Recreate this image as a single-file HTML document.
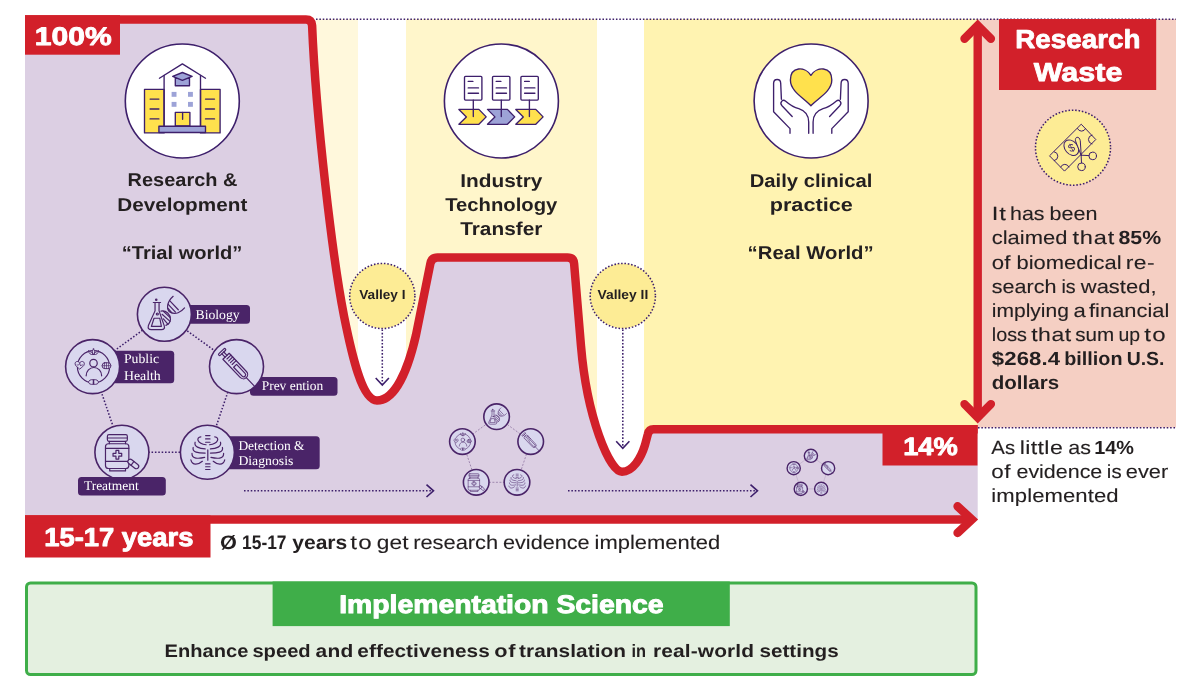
<!DOCTYPE html>
<html lang="en"><head><meta charset="utf-8"><title>Implementation Science</title>
<style>html,body{margin:0;padding:0;background:#fff}svg{display:block;will-change:transform}text{text-rendering:geometricPrecision}</style></head><body>
<svg width="1200" height="697" viewBox="0 0 1200 697">
<rect width="1200" height="697" fill="#fff"/>
<rect x="316" y="19" width="42" height="420" fill="#fff8dc"/>
<rect x="406" y="19" width="191" height="470" fill="#fff6cb"/>
<rect x="644" y="19" width="334" height="420" fill="#fff3b1"/>
<rect x="977.5" y="19" width="198.5" height="408.5" fill="#f5cfc3"/>
<path d="M25,19.5 L306,19.5 Q311.6,19.5 312.1,25.5 C316,120 333,260 344,316 C352,356 362,400.5 377,400.5 C395,400.5 408,370 416,335 L430.4,263.5 Q431.6,257.5 437.5,257.5 L567.5,257.5 Q573.6,257.5 574.1,263.5 L581,346 C587,418 609.7,471.7 622,471.7 C633,471.7 641,458 645,445 L647.9,434 Q649,429.2 653.5,429.2 L977.7,429.2 L977.7,519.6 L25,519.6 Z" fill="#dccfe3"/>
<path d="M316,19.2 H1176" stroke="#3d1f6b" stroke-width="1.55" stroke-dasharray="1.55 1.82" fill="none"/>
<path d="M978,427.7 H1176" stroke="#3d1f6b" stroke-width="1.55" stroke-dasharray="1.55 1.82" fill="none"/>
<path d="M25,19.5 L306,19.5 Q311.6,19.5 312.1,25.5 C316,120 333,260 344,316 C352,356 362,400.5 377,400.5 C395,400.5 408,370 416,335 L430.4,263.5 Q431.6,257.5 437.5,257.5 L567.5,257.5 Q573.6,257.5 574.1,263.5 L581,346 C587,418 609.7,471.7 622,471.7 C633,471.7 641,458 645,445 L647.9,434 Q649,429.2 653.5,429.2 L977.7,429.2" fill="none" stroke="#d2202a" stroke-width="8.5" stroke-linejoin="round"/>
<rect x="25" y="15.2" width="95" height="39.5" fill="#d2202a"/>
<rect x="882.5" y="425" width="95" height="40.5" fill="#d2202a"/>
<rect x="25" y="515.3" width="185.5" height="42.2" fill="#d2202a"/>
<path d="M25,519.6 H968" stroke="#d2202a" stroke-width="8.5" fill="none"/>
<path d="M957.6,506.3 L971.9,519.6 L957.6,532.9" stroke="#d2202a" stroke-width="8.5" fill="none" stroke-linecap="round" stroke-linejoin="miter"/>
<path d="M977.7,30 V413" stroke="#d2202a" stroke-width="8.4" fill="none"/>
<path d="M964.5,38.8 L977.7,25.4 L990.9,38.8" stroke="#d2202a" stroke-width="8.4" fill="none" stroke-linecap="round" stroke-linejoin="miter"/>
<path d="M964.5,404.1 L977.7,417.5 L990.9,404.1" stroke="#d2202a" stroke-width="8.4" fill="none" stroke-linecap="round" stroke-linejoin="miter"/>
<rect x="999" y="19" width="157.2" height="71" fill="#d2202a"/>
<circle cx="382.3" cy="296" r="32.6" fill="#fdec95" stroke="#3d1f6b" stroke-width="1.55" stroke-dasharray="1.55 1.82" />
<path d="M382.3,329.5 V384" stroke="#3d1f6b" stroke-width="1.55" stroke-dasharray="1.55 1.82" fill="none"/>
<path d="M375.7,378 L382.3,385 L388.90000000000003,378" stroke="#3d1f6b" stroke-width="1.6" fill="none"/>
<circle cx="622.8" cy="296" r="32.6" fill="#fdec95" stroke="#3d1f6b" stroke-width="1.55" stroke-dasharray="1.55 1.82" />
<path d="M622.8,329.5 V447.3" stroke="#3d1f6b" stroke-width="1.55" stroke-dasharray="1.55 1.82" fill="none"/>
<path d="M616.1999999999999,441.3 L622.8,448.3 L629.4,441.3" stroke="#3d1f6b" stroke-width="1.6" fill="none"/>
<path d="M244,490.8 H431.5" stroke="#3d1f6b" stroke-width="1.55" stroke-dasharray="1.55 1.82" fill="none"/>
<path d="M426.5,484.6 L433.5,490.8 L426.5,497" stroke="#3d1f6b" stroke-width="1.6" fill="none"/>
<path d="M568,490.8 H755.5" stroke="#3d1f6b" stroke-width="1.55" stroke-dasharray="1.55 1.82" fill="none"/>
<path d="M750.5,484.6 L757.5,490.8 L750.5,497" stroke="#3d1f6b" stroke-width="1.6" fill="none"/>
<circle cx="182.3" cy="101" r="57" fill="#fff" stroke="#3d1f6b" stroke-width="1.6"/>
<g stroke="#3d1f6b" stroke-width="1.35" stroke-linejoin="round" stroke-linecap="round">
<rect x="144.5" y="89.4" width="19.6" height="43.5" fill="#ffe14d"/>
<rect x="200.5" y="89.4" width="19.6" height="43.5" fill="#ffe14d"/>
<path d="M164.1,126.2 V75.4 M200.5,126.2 V75.4" fill="none"/>
<path d="M159.4,78.2 L182.4,63.9 L205.5,78.2" fill="none"/>
<rect x="175.3" y="112.4" width="14.6" height="13.4" fill="#ffe14d"/>
<path d="M182.6,112.4 V119.3" fill="none"/>
<rect x="158.9" y="126.2" width="46.6" height="6.3" fill="#9da3d7"/>
<rect x="175.3" y="78.2" width="14.2" height="7.5" fill="#9da3d7"/>
<path d="M172.7,76.4 L182.4,72.5 L192.1,76.4 L182.4,80.3 Z" fill="#9da3d7"/>
<path d="M150.1,99.1 H158.9 M205.5,99.1 H214.5" fill="none"/>
<path d="M150.1,109.0 H158.9 M205.5,109.0 H214.5" fill="none"/>
<path d="M150.1,118.9 H158.9 M205.5,118.9 H214.5" fill="none"/>
</g>
<rect x="171.6" y="91.9" width="4.9" height="4.9" fill="#9da3d7"/>
<rect x="188.0" y="91.9" width="4.9" height="4.9" fill="#9da3d7"/>
<rect x="171.6" y="101.9" width="4.9" height="4.9" fill="#9da3d7"/>
<rect x="188.0" y="101.9" width="4.9" height="4.9" fill="#9da3d7"/>
<circle cx="501.4" cy="101" r="57" fill="#fff" stroke="#3d1f6b" stroke-width="1.6"/>
<g stroke="#3d1f6b" stroke-width="1.35" stroke-linejoin="round" stroke-linecap="round">
<path d="M458.9,109.4 L478.9,109.4 L486.2,116.9 L478.9,124.3 L458.9,124.3 L466.4,116.9 Z" fill="#ffe14d"/>
<path d="M487.5,109.4 L507.4,109.4 L514.7,116.9 L507.4,124.3 L487.5,124.3 L494.9,116.9 Z" fill="#9da3d7"/>
<path d="M515.8,109.4 L535.8,109.4 L543.1,116.9 L535.8,124.3 L515.8,124.3 L523.3,116.9 Z" fill="#ffe14d"/>
<rect x="464.5" y="76.4" width="17.4" height="23.7" rx="1" fill="#fff"/>
<path d="M473.3,100.1 V116.5" fill="none"/>
<path d="M468.2,81.4 H472.9 M468.2,87.9 H478.5 M468.2,93.2 H478.5" fill="none"/>
<rect x="492.5" y="76.4" width="17.4" height="23.7" rx="1" fill="#fff"/>
<path d="M501.3,100.1 V116.5" fill="none"/>
<path d="M496.2,81.4 H500.9 M496.2,87.9 H506.5 M496.2,93.2 H506.5" fill="none"/>
<rect x="520.9" y="76.4" width="17.4" height="23.7" rx="1" fill="#fff"/>
<path d="M529.4,100.1 V116.5" fill="none"/>
<path d="M524.6,81.4 H529.3 M524.6,87.9 H534.9 M524.6,93.2 H534.9" fill="none"/>
</g>
<circle cx="811.1" cy="101" r="57" fill="#fff" stroke="#3d1f6b" stroke-width="1.6"/>
<g stroke="#3d1f6b" stroke-width="1.35" stroke-linejoin="round" stroke-linecap="round">
<path d="M810.9,75.4 C805.3,66.1 790.4,66.1 790.4,80.1 C790.4,91.3 803.4,97.8 810.9,105.7 C818.4,97.8 831.8,91.3 831.8,80.1 C831.8,66.1 816.5,66.1 810.9,75.4 Z" fill="#ffe14d"/>
<path d="M781.4,99.3 L780.7,83.3 C780.5,78.2 773.8,78.2 773.6,83.3 L773.6,111.8 L790.0,128.6 L790.0,133.3" fill="none"/>
<path d="M792.2,116.5 L782.0,105.7 C779.2,102.5 782.5,98.8 785.7,101.2 C790.4,105.3 794.1,107.5 798.8,108.7 C805.3,110.9 808.7,115.6 808.7,122.1 L808.7,133.3" fill="none"/>
<path d="M840.4,99.3 L841.1,83.3 C841.3,78.2 848.0,78.2 848.2,83.3 L848.2,111.8 L831.8,128.6 L831.8,133.3" fill="none"/>
<path d="M829.6,116.5 L839.8,105.7 C842.6,102.5 839.3,98.8 836.1,101.2 C831.4,105.3 827.7,107.5 823.0,108.7 C816.5,110.9 813.1,115.6 813.1,122.1 L813.1,133.3" fill="none"/>
</g>
<circle cx="1073" cy="147.7" r="37.5" fill="#fdec95" stroke="#3d1f6b" stroke-width="1.55" stroke-dasharray="1.55 1.82" />
<g stroke="#3d1f6b" stroke-width="1" fill="none" stroke-linejoin="round" stroke-linecap="round">
<path d="M1081.5,124.5 L1095.8,139.5 L1064.5,171.1 L1049.8,156.1 Z"/>
<ellipse cx="1071.3" cy="147.7" rx="6.3" ry="8.7" transform="rotate(-40 1071.3 147.7)"/>
<path d="M1077.5,128.6 A4.5 4.5 0 0 0 1085.6,128.6"/>
<path d="M1092.0,135.1 A4.5 4.5 0 0 0 1092.0,143.9"/>
<path d="M1054.3,151.8 A4.5 4.5 0 0 1 1054.3,160.6"/>
<path d="M1060.7,167.0 A4.5 4.5 0 0 1 1068.9,167.0"/>
<path d="M1081.1,155.2 L1075.5,140.9 C1074.6,136.5 1079.4,135.7 1080.2,140.3 Z" fill="#fdec95"/>
<path d="M1081.1,155.2 L1089.0,155.6 M1081.1,155.2 L1081.5,162.9"/>
<circle cx="1092.7" cy="155.9" r="3.8"/>
<circle cx="1081.5" cy="166.8" r="3.8"/>
</g>
<text x="1071.3" y="151.5" font-family="'Liberation Sans', Arial, sans-serif" font-size="11" fill="#3d1f6b" text-anchor="middle" transform="rotate(-25 1071.3 147.7)">$</text>
<rect x="186" y="305" width="64" height="18.7" rx="3.5" fill="#4a2468"/>
<rect x="112" y="350.8" width="62.2" height="32.5" rx="3.5" fill="#4a2468"/>
<rect x="250" y="377" width="87.5" height="18.8" rx="3.5" fill="#4a2468"/>
<rect x="226" y="436.3" width="93.7" height="32.9" rx="3.5" fill="#4a2468"/>
<path d="M164.4,314.3 L92.6,366.6 L121.9,452.2 L207.4,452.2 L236.5,366.6 L164.4,314.3" stroke="#3d1f6b" stroke-width="1.55" stroke-dasharray="1.55 1.82" fill="none"/>
<circle cx="164.4" cy="314.3" r="27.00" fill="#d9d7ee" stroke="#4a2468" stroke-width="1.6"/>
<g transform="translate(164.4,314.3) scale(1.007)" fill="none" stroke="#4a2468" stroke-width="1.19" stroke-linecap="round" stroke-linejoin="round"><path d="M-11,-11.7 H-3.8 M-9.3,-11.7 V-3.4 L-15.9,11.2 Q-17,15.3 -13,15.3 H-3 Q1,15.3 -0.2,11.2 L-5.3,-3.4 V-11.7"/><path d="M-10.3,3.9 H-4.6 L-3,12 H-12.9 Z"/><circle cx="-7" cy="-0.3" r="1"/><circle cx="-8.1" cy="-14.5" r="0.7"/><path d="M8.7,-17.9 C2,-12 1.5,-4 6.3,-1.8 C11,0.5 16.5,-2 20,-6.3"/><path d="M5.2,-13.5 L13.8,-4.5 M3.8,-9.8 L11,-2.2 M3.4,-6 L7.5,-1.5"/><path d="M-3.4,-3.2 C2,-4 6,0 6,5 C6,8 4,10 1.5,11"/><path d="M-1,-3 L5.5,3 M-2.3,0 L5.6,7 M-1,4.5 L3.6,10"/></g>
<circle cx="92.6" cy="366.6" r="27.00" fill="#d9d7ee" stroke="#4a2468" stroke-width="1.6"/>
<g transform="translate(92.6,366.6) scale(1.007)" fill="none" stroke="#4a2468" stroke-width="1.19" stroke-linecap="round" stroke-linejoin="round"><circle cx="0.9" cy="0.1" r="16"/><circle cx="0.9" cy="-3.4" r="3.7"/><path d="M-6.4,9.2 A7.7,8.3 0 0 1 9,9.2"/><g fill="#d9d7ee" stroke-width="0.9"><path d="M0.9,-17.6 C2.5,-16 2.5,-13.5 0.9,-12 C-0.7,-13.5 -0.7,-16 0.9,-17.6 Z M-4,-15.5 C-1.5,-15 -0.5,-13.5 0.9,-12 C-2,-11.5 -3.8,-13 -4,-15.5 Z M5.8,-15.5 C3.3,-15 2.3,-13.5 0.9,-12 C3.8,-11.5 5.6,-13 5.8,-15.5 Z"/><path d="M-12.8,-3.6 C-13.8,-6 -17.4,-5.6 -17.4,-2.8 C-17.4,-0.5 -14.5,0.8 -12.8,2.5 C-11.1,0.8 -8.2,-0.5 -8.2,-2.8 C-8.2,-5.6 -11.8,-6 -12.8,-3.6 Z"/><rect x="9.5" y="-3.8" width="8.6" height="5.8" rx="2.6"/><path d="M0.9,13 V17.6 M0.3,13 C-2,12.5 -4,14 -4,15.4 C-4,17 -2,18 0.3,17.6 Z M1.5,13 C3.8,12.5 5.8,14 5.8,15.4 C5.8,17 3.8,18 1.5,17.6 Z"/></g><path d="M9.5,-0.9 H18.1 M11.7,-3.8 V2 M13.8,-3.8 V2 M15.9,-3.8 V2" stroke-width="0.7"/><path d="M-15.5,-1.6 H-13.8 L-12.8,-3 L-11.8,-0.6 L-11,-1.6 H-10" stroke-width="0.7"/></g>
<circle cx="236.5" cy="366.6" r="27.00" fill="#d9d7ee" stroke="#4a2468" stroke-width="1.6"/>
<g transform="translate(236.5,366.6) scale(1.007)" fill="none" stroke="#4a2468" stroke-width="1.19" stroke-linecap="round" stroke-linejoin="round"><g transform="translate(0.2,0.9) rotate(46.5)"><rect x="-22.2" y="-4.6" width="2.2" height="9" rx="1.1"/><path d="M-20,-1.3 H-15.4 M-20,1.3 H-15.4"/><path d="M-15.4,-4.3 H9.5 A4.3,4.3 0 0 1 9.5,4.3 H-15.4 Z"/><path d="M-2.3,-2 H10 A2,2 0 0 1 10,2 H-2.3 Z"/><path d="M-12.8,-4.3 V1.2 M-10.3,-4.3 V1.2 M-7.8,-4.3 V1.2 M-5.3,-4.3 V1.2"/><path d="M13.8,0 H25.2"/></g></g>
<circle cx="121.9" cy="452.2" r="27.00" fill="#d9d7ee" stroke="#4a2468" stroke-width="1.6"/>
<g transform="translate(121.9,452.2) scale(1.007)" fill="none" stroke="#4a2468" stroke-width="1.19" stroke-linecap="round" stroke-linejoin="round"><rect x="-14.4" y="-17.4" width="19.8" height="6.6" rx="1.5"/><path d="M-14.4,-14.1 H5.4"/><path d="M-12.5,-10.8 V-8.4 M3.6,-10.8 V-8.4"/><rect x="-16.3" y="-8.4" width="23.2" height="24.6" rx="3"/><path d="M-16.3,-3.8 H6.9 M-16.3,9.1 H6.9"/><path d="M-5.9,-1.8 H-3.1 V1.1 H-0.2 V3.9 H-3.1 V6.8 H-5.9 V3.9 H-8.8 V1.1 H-5.9 Z"/><path d="M-12.1,16.2 V18.6 H3.6 V16.2"/><g transform="translate(11.3,11.7) rotate(38)"><rect x="-6.2" y="-2.4" width="12.4" height="4.8" rx="2.4" fill="#d9d7ee"/><path d="M-1,-2.4 V2.4"/></g></g>
<circle cx="207.4" cy="452.2" r="27.00" fill="#d9d7ee" stroke="#4a2468" stroke-width="1.6"/>
<g transform="translate(207.4,452.2) scale(1.007)" fill="none" stroke="#4a2468" stroke-width="1.19" stroke-linecap="round" stroke-linejoin="round"><path d="M0.4,-2.3 V8"/><path d="M-1.8,-16.5 H2.6 M-1.8,-13.2 H2.6 M-1.8,-9.9 H2.6 M-1.8,11.6 H2.6 M-1.8,14.4 H2.6 M-1.8,17.2 H2.6" stroke-width="1.1"/><path d="M-6.5,-15.2 C-11.5,-15 -10.5,-8.5 -1.3,-7.4"/><path d="M7.3,-15.2 C12.3,-15 11.3,-8.5 2.1,-7.4"/><path d="M-12.2,-9.9 C-13.5,-5.5 -8.0,-3.6 -2.2,-3.3"/><path d="M13.0,-9.9 C14.3,-5.5 8.8,-3.6 3.0,-3.3"/><path d="M-14.1,-4.7 C-15.5,0 -9.0,0.9 -2.2,0.9"/><path d="M14.9,-4.7 C16.3,0 9.8,0.9 3.0,0.9"/><path d="M-15.3,1.2 C-15.5,6.8 -9.0,6.6 -2.7,5.2"/><path d="M16.1,1.2 C16.3,6.8 9.8,6.6 3.5,5.2"/><path d="M-16.4,7.6 C-15.0,13.5 -9.0,12.5 -5.0,9"/><path d="M17.2,7.6 C15.8,13.5 9.8,12.5 5.8,9"/></g>
<rect x="78" y="477" width="87.8" height="18.5" rx="3.5" fill="#4a2468"/>
<path d="M496.6,416.7 L462.4,441.6 L476.2,482.3 L517,482.3 L530.7,441.6 L496.6,416.7" stroke="#4a2468" stroke-width="0.6" stroke-dasharray="2 1.5" fill="none" opacity="0.7"/>
<circle cx="496.6" cy="416.7" r="12.80" fill="#d9d7ee" stroke="#4a2468" stroke-width="1.6"/>
<g transform="translate(496.6,416.7) scale(0.493)" fill="none" stroke="#4a2468" stroke-width="1.12" stroke-linecap="round" stroke-linejoin="round"><path d="M-11,-11.7 H-3.8 M-9.3,-11.7 V-3.4 L-15.9,11.2 Q-17,15.3 -13,15.3 H-3 Q1,15.3 -0.2,11.2 L-5.3,-3.4 V-11.7"/><path d="M-10.3,3.9 H-4.6 L-3,12 H-12.9 Z"/><circle cx="-7" cy="-0.3" r="1"/><circle cx="-8.1" cy="-14.5" r="0.7"/><path d="M8.7,-17.9 C2,-12 1.5,-4 6.3,-1.8 C11,0.5 16.5,-2 20,-6.3"/><path d="M5.2,-13.5 L13.8,-4.5 M3.8,-9.8 L11,-2.2 M3.4,-6 L7.5,-1.5"/><path d="M-3.4,-3.2 C2,-4 6,0 6,5 C6,8 4,10 1.5,11"/><path d="M-1,-3 L5.5,3 M-2.3,0 L5.6,7 M-1,4.5 L3.6,10"/></g>
<circle cx="462.4" cy="441.6" r="12.80" fill="#d9d7ee" stroke="#4a2468" stroke-width="1.6"/>
<g transform="translate(462.4,441.6) scale(0.493)" fill="none" stroke="#4a2468" stroke-width="1.12" stroke-linecap="round" stroke-linejoin="round"><circle cx="0.9" cy="0.1" r="16"/><circle cx="0.9" cy="-3.4" r="3.7"/><path d="M-6.4,9.2 A7.7,8.3 0 0 1 9,9.2"/><g fill="#d9d7ee" stroke-width="0.9"><path d="M0.9,-17.6 C2.5,-16 2.5,-13.5 0.9,-12 C-0.7,-13.5 -0.7,-16 0.9,-17.6 Z M-4,-15.5 C-1.5,-15 -0.5,-13.5 0.9,-12 C-2,-11.5 -3.8,-13 -4,-15.5 Z M5.8,-15.5 C3.3,-15 2.3,-13.5 0.9,-12 C3.8,-11.5 5.6,-13 5.8,-15.5 Z"/><path d="M-12.8,-3.6 C-13.8,-6 -17.4,-5.6 -17.4,-2.8 C-17.4,-0.5 -14.5,0.8 -12.8,2.5 C-11.1,0.8 -8.2,-0.5 -8.2,-2.8 C-8.2,-5.6 -11.8,-6 -12.8,-3.6 Z"/><rect x="9.5" y="-3.8" width="8.6" height="5.8" rx="2.6"/><path d="M0.9,13 V17.6 M0.3,13 C-2,12.5 -4,14 -4,15.4 C-4,17 -2,18 0.3,17.6 Z M1.5,13 C3.8,12.5 5.8,14 5.8,15.4 C5.8,17 3.8,18 1.5,17.6 Z"/></g><path d="M9.5,-0.9 H18.1 M11.7,-3.8 V2 M13.8,-3.8 V2 M15.9,-3.8 V2" stroke-width="0.7"/><path d="M-15.5,-1.6 H-13.8 L-12.8,-3 L-11.8,-0.6 L-11,-1.6 H-10" stroke-width="0.7"/></g>
<circle cx="530.7" cy="441.6" r="12.80" fill="#d9d7ee" stroke="#4a2468" stroke-width="1.6"/>
<g transform="translate(530.7,441.6) scale(0.493)" fill="none" stroke="#4a2468" stroke-width="1.12" stroke-linecap="round" stroke-linejoin="round"><g transform="translate(0.2,0.9) rotate(46.5)"><rect x="-22.2" y="-4.6" width="2.2" height="9" rx="1.1"/><path d="M-20,-1.3 H-15.4 M-20,1.3 H-15.4"/><path d="M-15.4,-4.3 H9.5 A4.3,4.3 0 0 1 9.5,4.3 H-15.4 Z"/><path d="M-2.3,-2 H10 A2,2 0 0 1 10,2 H-2.3 Z"/><path d="M-12.8,-4.3 V1.2 M-10.3,-4.3 V1.2 M-7.8,-4.3 V1.2 M-5.3,-4.3 V1.2"/><path d="M13.8,0 H25.2"/></g></g>
<circle cx="476.2" cy="482.3" r="12.80" fill="#d9d7ee" stroke="#4a2468" stroke-width="1.6"/>
<g transform="translate(476.2,482.3) scale(0.493)" fill="none" stroke="#4a2468" stroke-width="1.12" stroke-linecap="round" stroke-linejoin="round"><rect x="-14.4" y="-17.4" width="19.8" height="6.6" rx="1.5"/><path d="M-14.4,-14.1 H5.4"/><path d="M-12.5,-10.8 V-8.4 M3.6,-10.8 V-8.4"/><rect x="-16.3" y="-8.4" width="23.2" height="24.6" rx="3"/><path d="M-16.3,-3.8 H6.9 M-16.3,9.1 H6.9"/><path d="M-5.9,-1.8 H-3.1 V1.1 H-0.2 V3.9 H-3.1 V6.8 H-5.9 V3.9 H-8.8 V1.1 H-5.9 Z"/><path d="M-12.1,16.2 V18.6 H3.6 V16.2"/><g transform="translate(11.3,11.7) rotate(38)"><rect x="-6.2" y="-2.4" width="12.4" height="4.8" rx="2.4" fill="#d9d7ee"/><path d="M-1,-2.4 V2.4"/></g></g>
<circle cx="517" cy="482.3" r="12.80" fill="#d9d7ee" stroke="#4a2468" stroke-width="1.6"/>
<g transform="translate(517,482.3) scale(0.493)" fill="none" stroke="#4a2468" stroke-width="1.12" stroke-linecap="round" stroke-linejoin="round"><path d="M0.4,-2.3 V8"/><path d="M-1.8,-16.5 H2.6 M-1.8,-13.2 H2.6 M-1.8,-9.9 H2.6 M-1.8,11.6 H2.6 M-1.8,14.4 H2.6 M-1.8,17.2 H2.6" stroke-width="1.1"/><path d="M-6.5,-15.2 C-11.5,-15 -10.5,-8.5 -1.3,-7.4"/><path d="M7.3,-15.2 C12.3,-15 11.3,-8.5 2.1,-7.4"/><path d="M-12.2,-9.9 C-13.5,-5.5 -8.0,-3.6 -2.2,-3.3"/><path d="M13.0,-9.9 C14.3,-5.5 8.8,-3.6 3.0,-3.3"/><path d="M-14.1,-4.7 C-15.5,0 -9.0,0.9 -2.2,0.9"/><path d="M14.9,-4.7 C16.3,0 9.8,0.9 3.0,0.9"/><path d="M-15.3,1.2 C-15.5,6.8 -9.0,6.6 -2.7,5.2"/><path d="M16.1,1.2 C16.3,6.8 9.8,6.6 3.5,5.2"/><path d="M-16.4,7.6 C-15.0,13.5 -9.0,12.5 -5.0,9"/><path d="M17.2,7.6 C15.8,13.5 9.8,12.5 5.8,9"/></g>
<path d="M810.9,455.8 L793.7,468.2 L800.8,488.9 L821.2,488.9 L828.1,468.2 L810.9,455.8" stroke="#4a2468" stroke-width="0.4" fill="none" opacity="0.35"/>
<circle cx="810.9" cy="455.8" r="6.60" fill="#d9d7ee" stroke="#4a2468" stroke-width="1.4"/>
<g transform="translate(810.9,455.8) scale(0.264)" fill="none" stroke="#4a2468" stroke-width="1.51" stroke-linecap="round" stroke-linejoin="round"><path d="M-11,-11.7 H-3.8 M-9.3,-11.7 V-3.4 L-15.9,11.2 Q-17,15.3 -13,15.3 H-3 Q1,15.3 -0.2,11.2 L-5.3,-3.4 V-11.7"/><path d="M-10.3,3.9 H-4.6 L-3,12 H-12.9 Z"/><circle cx="-7" cy="-0.3" r="1"/><circle cx="-8.1" cy="-14.5" r="0.7"/><path d="M8.7,-17.9 C2,-12 1.5,-4 6.3,-1.8 C11,0.5 16.5,-2 20,-6.3"/><path d="M5.2,-13.5 L13.8,-4.5 M3.8,-9.8 L11,-2.2 M3.4,-6 L7.5,-1.5"/><path d="M-3.4,-3.2 C2,-4 6,0 6,5 C6,8 4,10 1.5,11"/><path d="M-1,-3 L5.5,3 M-2.3,0 L5.6,7 M-1,4.5 L3.6,10"/></g>
<circle cx="793.7" cy="468.2" r="6.60" fill="#d9d7ee" stroke="#4a2468" stroke-width="1.4"/>
<g transform="translate(793.7,468.2) scale(0.264)" fill="none" stroke="#4a2468" stroke-width="1.51" stroke-linecap="round" stroke-linejoin="round"><circle cx="0.9" cy="0.1" r="16"/><circle cx="0.9" cy="-3.4" r="3.7"/><path d="M-6.4,9.2 A7.7,8.3 0 0 1 9,9.2"/><g fill="#d9d7ee" stroke-width="0.9"><path d="M0.9,-17.6 C2.5,-16 2.5,-13.5 0.9,-12 C-0.7,-13.5 -0.7,-16 0.9,-17.6 Z M-4,-15.5 C-1.5,-15 -0.5,-13.5 0.9,-12 C-2,-11.5 -3.8,-13 -4,-15.5 Z M5.8,-15.5 C3.3,-15 2.3,-13.5 0.9,-12 C3.8,-11.5 5.6,-13 5.8,-15.5 Z"/><path d="M-12.8,-3.6 C-13.8,-6 -17.4,-5.6 -17.4,-2.8 C-17.4,-0.5 -14.5,0.8 -12.8,2.5 C-11.1,0.8 -8.2,-0.5 -8.2,-2.8 C-8.2,-5.6 -11.8,-6 -12.8,-3.6 Z"/><rect x="9.5" y="-3.8" width="8.6" height="5.8" rx="2.6"/><path d="M0.9,13 V17.6 M0.3,13 C-2,12.5 -4,14 -4,15.4 C-4,17 -2,18 0.3,17.6 Z M1.5,13 C3.8,12.5 5.8,14 5.8,15.4 C5.8,17 3.8,18 1.5,17.6 Z"/></g><path d="M9.5,-0.9 H18.1 M11.7,-3.8 V2 M13.8,-3.8 V2 M15.9,-3.8 V2" stroke-width="0.7"/><path d="M-15.5,-1.6 H-13.8 L-12.8,-3 L-11.8,-0.6 L-11,-1.6 H-10" stroke-width="0.7"/></g>
<circle cx="828.1" cy="468.2" r="6.60" fill="#d9d7ee" stroke="#4a2468" stroke-width="1.4"/>
<g transform="translate(828.1,468.2) scale(0.264)" fill="none" stroke="#4a2468" stroke-width="1.51" stroke-linecap="round" stroke-linejoin="round"><g transform="translate(0.2,0.9) rotate(46.5)"><rect x="-22.2" y="-4.6" width="2.2" height="9" rx="1.1"/><path d="M-20,-1.3 H-15.4 M-20,1.3 H-15.4"/><path d="M-15.4,-4.3 H9.5 A4.3,4.3 0 0 1 9.5,4.3 H-15.4 Z"/><path d="M-2.3,-2 H10 A2,2 0 0 1 10,2 H-2.3 Z"/><path d="M-12.8,-4.3 V1.2 M-10.3,-4.3 V1.2 M-7.8,-4.3 V1.2 M-5.3,-4.3 V1.2"/><path d="M13.8,0 H25.2"/></g></g>
<circle cx="800.8" cy="488.9" r="6.60" fill="#d9d7ee" stroke="#4a2468" stroke-width="1.4"/>
<g transform="translate(800.8,488.9) scale(0.264)" fill="none" stroke="#4a2468" stroke-width="1.51" stroke-linecap="round" stroke-linejoin="round"><rect x="-14.4" y="-17.4" width="19.8" height="6.6" rx="1.5"/><path d="M-14.4,-14.1 H5.4"/><path d="M-12.5,-10.8 V-8.4 M3.6,-10.8 V-8.4"/><rect x="-16.3" y="-8.4" width="23.2" height="24.6" rx="3"/><path d="M-16.3,-3.8 H6.9 M-16.3,9.1 H6.9"/><path d="M-5.9,-1.8 H-3.1 V1.1 H-0.2 V3.9 H-3.1 V6.8 H-5.9 V3.9 H-8.8 V1.1 H-5.9 Z"/><path d="M-12.1,16.2 V18.6 H3.6 V16.2"/><g transform="translate(11.3,11.7) rotate(38)"><rect x="-6.2" y="-2.4" width="12.4" height="4.8" rx="2.4" fill="#d9d7ee"/><path d="M-1,-2.4 V2.4"/></g></g>
<circle cx="821.2" cy="488.9" r="6.60" fill="#d9d7ee" stroke="#4a2468" stroke-width="1.4"/>
<g transform="translate(821.2,488.9) scale(0.264)" fill="none" stroke="#4a2468" stroke-width="1.51" stroke-linecap="round" stroke-linejoin="round"><path d="M0.4,-2.3 V8"/><path d="M-1.8,-16.5 H2.6 M-1.8,-13.2 H2.6 M-1.8,-9.9 H2.6 M-1.8,11.6 H2.6 M-1.8,14.4 H2.6 M-1.8,17.2 H2.6" stroke-width="1.1"/><path d="M-6.5,-15.2 C-11.5,-15 -10.5,-8.5 -1.3,-7.4"/><path d="M7.3,-15.2 C12.3,-15 11.3,-8.5 2.1,-7.4"/><path d="M-12.2,-9.9 C-13.5,-5.5 -8.0,-3.6 -2.2,-3.3"/><path d="M13.0,-9.9 C14.3,-5.5 8.8,-3.6 3.0,-3.3"/><path d="M-14.1,-4.7 C-15.5,0 -9.0,0.9 -2.2,0.9"/><path d="M14.9,-4.7 C16.3,0 9.8,0.9 3.0,0.9"/><path d="M-15.3,1.2 C-15.5,6.8 -9.0,6.6 -2.7,5.2"/><path d="M16.1,1.2 C16.3,6.8 9.8,6.6 3.5,5.2"/><path d="M-16.4,7.6 C-15.0,13.5 -9.0,12.5 -5.0,9"/><path d="M17.2,7.6 C15.8,13.5 9.8,12.5 5.8,9"/></g>
<text x="195.5" y="318.7" font-family="'Liberation Serif', 'Times New Roman', serif" font-size="13.5" font-weight="normal" fill="#fff" textLength="44.1" lengthAdjust="spacingAndGlyphs">Biology</text>
<text x="123.9" y="363.3" font-family="'Liberation Serif', 'Times New Roman', serif" font-size="13.5" font-weight="normal" fill="#fff" textLength="35.2" lengthAdjust="spacingAndGlyphs">Public</text>
<text x="123.9" y="379.7" font-family="'Liberation Serif', 'Times New Roman', serif" font-size="13.5" font-weight="normal" fill="#fff" textLength="36.9" lengthAdjust="spacingAndGlyphs">Health</text>
<text x="261.7" y="389.7" font-family="'Liberation Serif', 'Times New Roman', serif" font-size="13.5" font-weight="normal" fill="#fff" textLength="61.6" lengthAdjust="spacingAndGlyphs">Prev ention</text>
<text x="238.4" y="449.7" font-family="'Liberation Serif', 'Times New Roman', serif" font-size="13.5" font-weight="normal" fill="#fff" textLength="66.2" lengthAdjust="spacingAndGlyphs">Detection &amp;</text>
<text x="238.4" y="465.3" font-family="'Liberation Serif', 'Times New Roman', serif" font-size="13.5" font-weight="normal" fill="#fff" textLength="54.9" lengthAdjust="spacingAndGlyphs">Diagnosis</text>
<text x="83.9" y="489.7" font-family="'Liberation Serif', 'Times New Roman', serif" font-size="13.5" font-weight="normal" fill="#fff" textLength="54.9" lengthAdjust="spacingAndGlyphs">Treatment</text>
<text x="34.8" y="44.7" font-family="'Liberation Sans', Arial, sans-serif" font-size="25.5" font-weight="bold" fill="#fff" textLength="76.8" lengthAdjust="spacingAndGlyphs" stroke="#fff" stroke-width="0.9" stroke-linejoin="round">100%</text>
<text x="903.2" y="455.3" font-family="'Liberation Sans', Arial, sans-serif" font-size="25" font-weight="bold" fill="#fff" textLength="54.6" lengthAdjust="spacingAndGlyphs" stroke="#fff" stroke-width="0.9" stroke-linejoin="round">14%</text>
<text x="44.2" y="546.2" font-family="'Liberation Sans', Arial, sans-serif" font-size="26" font-weight="bold" fill="#fff" textLength="149.3" lengthAdjust="spacingAndGlyphs" stroke="#fff" stroke-width="0.9" stroke-linejoin="round">15-17 years</text>
<text x="1015.3" y="48.1" font-family="'Liberation Sans', Arial, sans-serif" font-size="26" font-weight="bold" fill="#fff" textLength="125.1" lengthAdjust="spacingAndGlyphs" stroke="#fff" stroke-width="0.8" stroke-linejoin="round">Research</text>
<text x="1033.7" y="80.6" font-family="'Liberation Sans', Arial, sans-serif" font-size="26" font-weight="bold" fill="#fff" textLength="88.7" lengthAdjust="spacingAndGlyphs" stroke="#fff" stroke-width="0.8" stroke-linejoin="round">Waste</text>
<text x="127.6" y="186.3" font-family="'Liberation Sans', Arial, sans-serif" font-size="18.6" font-weight="bold" fill="#231f20" textLength="109.8" lengthAdjust="spacingAndGlyphs">Research &amp;</text>
<text x="117.2" y="210.8" font-family="'Liberation Sans', Arial, sans-serif" font-size="18.6" font-weight="bold" fill="#231f20" textLength="130.1" lengthAdjust="spacingAndGlyphs">Development</text>
<text x="121.7" y="259.2" font-family="'Liberation Sans', Arial, sans-serif" font-size="18.6" font-weight="bold" fill="#231f20" textLength="120.7" lengthAdjust="spacingAndGlyphs">“Trial world”</text>
<text x="460.2" y="186.7" font-family="'Liberation Sans', Arial, sans-serif" font-size="18.6" font-weight="bold" fill="#231f20" textLength="82.2" lengthAdjust="spacingAndGlyphs">Industry</text>
<text x="445.2" y="210.8" font-family="'Liberation Sans', Arial, sans-serif" font-size="18.6" font-weight="bold" fill="#231f20" textLength="112.2" lengthAdjust="spacingAndGlyphs">Technology</text>
<text x="460.2" y="235.0" font-family="'Liberation Sans', Arial, sans-serif" font-size="18.6" font-weight="bold" fill="#231f20" textLength="82.2" lengthAdjust="spacingAndGlyphs">Transfer</text>
<text x="749.7" y="186.7" font-family="'Liberation Sans', Arial, sans-serif" font-size="18.6" font-weight="bold" fill="#231f20" textLength="122.7" lengthAdjust="spacingAndGlyphs">Daily clinical</text>
<text x="769.7" y="210.8" font-family="'Liberation Sans', Arial, sans-serif" font-size="18.6" font-weight="bold" fill="#231f20" textLength="83.1" lengthAdjust="spacingAndGlyphs">practice</text>
<text x="747.6" y="259.2" font-family="'Liberation Sans', Arial, sans-serif" font-size="18.6" font-weight="bold" fill="#231f20" textLength="126.0" lengthAdjust="spacingAndGlyphs">“Real World”</text>
<text x="359.2" y="299.3" font-family="'Liberation Sans', Arial, sans-serif" font-size="13.2" font-weight="bold" fill="#231f20" textLength="46.3" lengthAdjust="spacingAndGlyphs">Valley I</text>
<text x="597.5" y="299.2" font-family="'Liberation Sans', Arial, sans-serif" font-size="13.2" font-weight="bold" fill="#231f20" textLength="50.8" lengthAdjust="spacingAndGlyphs">Valley II</text>
<g font-family="'Liberation Sans', Arial, sans-serif" font-size="19" fill="#231f20"><text transform="translate(991.76,219.8) scale(1.256,1)" font-weight="normal" textLength="11.29" lengthAdjust="spacing" stroke="#231f20" stroke-width="0.12">It</text> <text transform="translate(1010.06,219.8) scale(1.126,1)" font-weight="normal" textLength="30.63" lengthAdjust="spacing" stroke="#231f20" stroke-width="0.12">has</text> <text transform="translate(1049.56,219.8) scale(1.133,1)" font-weight="normal" textLength="42.27" lengthAdjust="spacing" stroke="#231f20" stroke-width="0.12">been</text></g>
<g font-family="'Liberation Sans', Arial, sans-serif" font-size="19" fill="#231f20"><text transform="translate(991.76,244.2) scale(1.153,1)" font-weight="normal" textLength="65.62" lengthAdjust="spacing" stroke="#231f20" stroke-width="0.12">claimed</text> <text transform="translate(1072.56,244.2) scale(1.241,1)" font-weight="normal" textLength="33.59" lengthAdjust="spacing" stroke="#231f20" stroke-width="0.12">that</text> <text transform="translate(1118.46,244.2) scale(1.122,1)" font-weight="bold" textLength="38.03" lengthAdjust="spacing">85%</text></g>
<g font-family="'Liberation Sans', Arial, sans-serif" font-size="19" fill="#231f20"><text transform="translate(991.76,268.6) scale(1.169,1)" font-weight="normal" textLength="16.06" lengthAdjust="spacing" stroke="#231f20" stroke-width="0.12">of</text> <text transform="translate(1016.46,268.6) scale(1.154,1)" font-weight="normal" textLength="91.11" lengthAdjust="spacing" stroke="#231f20" stroke-width="0.12">biomedical</text> <text transform="translate(1125.76,268.6) scale(1.204,1)" font-weight="normal" textLength="24.07" lengthAdjust="spacing" stroke="#231f20" stroke-width="0.12">re-</text></g>
<g font-family="'Liberation Sans', Arial, sans-serif" font-size="19" fill="#231f20"><text transform="translate(991.76,292.8) scale(1.134,1)" font-weight="normal" textLength="57.03" lengthAdjust="spacing" stroke="#231f20" stroke-width="0.12">search</text> <text transform="translate(1061.46,292.8) scale(1.041,1)" font-weight="normal" textLength="13.72" lengthAdjust="spacing" stroke="#231f20" stroke-width="0.12">is</text> <text transform="translate(1080.76,292.8) scale(1.154,1)" font-weight="normal" textLength="65.67" lengthAdjust="spacing" stroke="#231f20" stroke-width="0.12">wasted,</text></g>
<g font-family="'Liberation Sans', Arial, sans-serif" font-size="19" fill="#231f20"><text transform="translate(991.76,316.5) scale(1.107,1)" font-weight="normal" textLength="69.69" lengthAdjust="spacing" stroke="#231f20" stroke-width="0.12">implying</text> <text transform="translate(1073.46,316.5) scale(1.162,1)" font-weight="normal" textLength="10.66" lengthAdjust="spacing" stroke="#231f20" stroke-width="0.12">a</text> <text transform="translate(1089.06,316.5) scale(1.151,1)" font-weight="normal" textLength="69.76" lengthAdjust="spacing" stroke="#231f20" stroke-width="0.12">financial</text></g>
<g font-family="'Liberation Sans', Arial, sans-serif" font-size="19" fill="#231f20"><text transform="translate(991.76,340.8) scale(1.044,1)" font-weight="normal" textLength="33.79" lengthAdjust="spacing" stroke="#231f20" stroke-width="0.12">loss</text> <text transform="translate(1031.16,340.8) scale(1.211,1)" font-weight="normal" textLength="33.00" lengthAdjust="spacing" stroke="#231f20" stroke-width="0.12">that</text> <text transform="translate(1075.26,340.8) scale(1.086,1)" font-weight="normal" textLength="35.90" lengthAdjust="spacing" stroke="#231f20" stroke-width="0.12">sum</text> <text transform="translate(1118.46,340.8) scale(1.021,1)" font-weight="normal" textLength="21.13" lengthAdjust="spacing" stroke="#231f20" stroke-width="0.12">up</text> <text transform="translate(1144.16,340.8) scale(1.267,1)" font-weight="normal" textLength="17.04" lengthAdjust="spacing" stroke="#231f20" stroke-width="0.12">to</text></g>
<g font-family="'Liberation Sans', Arial, sans-serif" font-size="19" fill="#231f20"><text transform="translate(991.76,365.2) scale(1.165,1)" font-weight="bold" textLength="58.71" lengthAdjust="spacing">$268.4</text> <text transform="translate(1064.26,365.2) scale(1.042,1)" font-weight="bold" textLength="55.93" lengthAdjust="spacing">billion</text> <text transform="translate(1126.66,365.2) scale(1.022,1)" font-weight="bold" textLength="36.95" lengthAdjust="spacing">U.S.</text></g>
<g font-family="'Liberation Sans', Arial, sans-serif" font-size="19" fill="#231f20"><text transform="translate(991.76,389.0) scale(1.082,1)" font-weight="bold" textLength="62.30" lengthAdjust="spacing">dollars</text></g>
<g font-family="'Liberation Sans', Arial, sans-serif" font-size="19" fill="#231f20"><text transform="translate(991.36,454.0) scale(1.072,1)" font-weight="normal" textLength="22.17" lengthAdjust="spacing" stroke="#231f20" stroke-width="0.12">As</text> <text transform="translate(1019.66,454.0) scale(1.220,1)" font-weight="normal" textLength="35.38" lengthAdjust="spacing" stroke="#231f20" stroke-width="0.12">little</text> <text transform="translate(1068.26,454.0) scale(1.130,1)" font-weight="normal" textLength="20.07" lengthAdjust="spacing" stroke="#231f20" stroke-width="0.12">as</text> <text transform="translate(1094.16,454.0) scale(1.046,1)" font-weight="bold" textLength="38.03" lengthAdjust="spacing">14%</text></g>
<g font-family="'Liberation Sans', Arial, sans-serif" font-size="19" fill="#231f20"><text transform="translate(991.36,477.9) scale(1.183,1)" font-weight="normal" textLength="16.21" lengthAdjust="spacing" stroke="#231f20" stroke-width="0.12">of</text> <text transform="translate(1016.46,477.9) scale(1.129,1)" font-weight="normal" textLength="76.06" lengthAdjust="spacing" stroke="#231f20" stroke-width="0.12">evidence</text> <text transform="translate(1106.86,477.9) scale(1.077,1)" font-weight="normal" textLength="13.72" lengthAdjust="spacing" stroke="#231f20" stroke-width="0.12">is</text> <text transform="translate(1125.76,477.9) scale(1.147,1)" font-weight="normal" textLength="36.96" lengthAdjust="spacing" stroke="#231f20" stroke-width="0.12">ever</text></g>
<g font-family="'Liberation Sans', Arial, sans-serif" font-size="19" fill="#231f20"><text transform="translate(991.36,501.7) scale(1.161,1)" font-weight="normal" textLength="109.59" lengthAdjust="spacing" stroke="#231f20" stroke-width="0.12">implemented</text></g>
<g font-family="'Liberation Sans', Arial, sans-serif" font-size="19.5" fill="#231f20"><text transform="translate(219.93,549.0) scale(1.110,1)" font-weight="bold" textLength="15.17" lengthAdjust="spacing">Ø</text> <text transform="translate(242.03,549.0) scale(0.893,1)" font-weight="bold" textLength="49.88" lengthAdjust="spacing">15-17</text> <text transform="translate(292.23,549.0) scale(1.080,1)" font-weight="bold" textLength="50.97" lengthAdjust="spacing">years</text> <text transform="translate(350.33,549.0) scale(1.243,1)" font-weight="normal" textLength="17.25" lengthAdjust="spacing" stroke="#231f20" stroke-width="0.12">to</text> <text transform="translate(376.73,549.0) scale(1.164,1)" font-weight="normal" textLength="27.37" lengthAdjust="spacing" stroke="#231f20" stroke-width="0.12">get</text> <text transform="translate(413.13,549.0) scale(1.121,1)" font-weight="normal" textLength="75.87" lengthAdjust="spacing" stroke="#231f20" stroke-width="0.12">research</text> <text transform="translate(503.03,549.0) scale(1.110,1)" font-weight="normal" textLength="78.06" lengthAdjust="spacing" stroke="#231f20" stroke-width="0.12">evidence</text> <text transform="translate(594.53,549.0) scale(1.126,1)" font-weight="normal" textLength="111.64" lengthAdjust="spacing" stroke="#231f20" stroke-width="0.12">implemented</text></g>
<rect x="26.5" y="583" width="949.5" height="91.5" rx="4" fill="#e4f0e0" stroke="#3fae49" stroke-width="3"/>
<rect x="272.6" y="581.5" width="457.2" height="44.6" fill="#3fae49"/>
<text x="339.2" y="613.3" font-family="'Liberation Sans', Arial, sans-serif" font-size="25.5" font-weight="bold" fill="#fff" textLength="324.4" lengthAdjust="spacingAndGlyphs" stroke="#fff" stroke-width="1.0" stroke-linejoin="round">Implementation Science</text>
<g font-family="'Liberation Sans', Arial, sans-serif" font-size="18" fill="#231f20"><text transform="translate(164.62,657.4) scale(1.116,1)" font-weight="bold" textLength="75.03" lengthAdjust="spacing">Enhance</text> <text transform="translate(252.42,657.4) scale(1.120,1)" font-weight="bold" textLength="52.02" lengthAdjust="spacing">speed</text> <text transform="translate(315.62,657.4) scale(1.163,1)" font-weight="bold" textLength="32.30" lengthAdjust="spacing">and</text> <text transform="translate(357.32,657.4) scale(1.156,1)" font-weight="bold" textLength="114.57" lengthAdjust="spacing">effectiveness</text> <text transform="translate(494.32,657.4) scale(1.206,1)" font-weight="bold" textLength="17.63" lengthAdjust="spacing">of</text> <text transform="translate(519.02,657.4) scale(1.157,1)" font-weight="bold" textLength="92.46" lengthAdjust="spacing">translation</text> <text transform="translate(631.52,657.4) scale(0.910,1)" font-weight="bold" textLength="16.00" lengthAdjust="spacing">in</text> <text transform="translate(653.12,657.4) scale(1.162,1)" font-weight="bold" textLength="86.77" lengthAdjust="spacing">real-world</text> <text transform="translate(759.52,657.4) scale(1.148,1)" font-weight="bold" textLength="69.01" lengthAdjust="spacing">settings</text></g>
</svg></body></html>
